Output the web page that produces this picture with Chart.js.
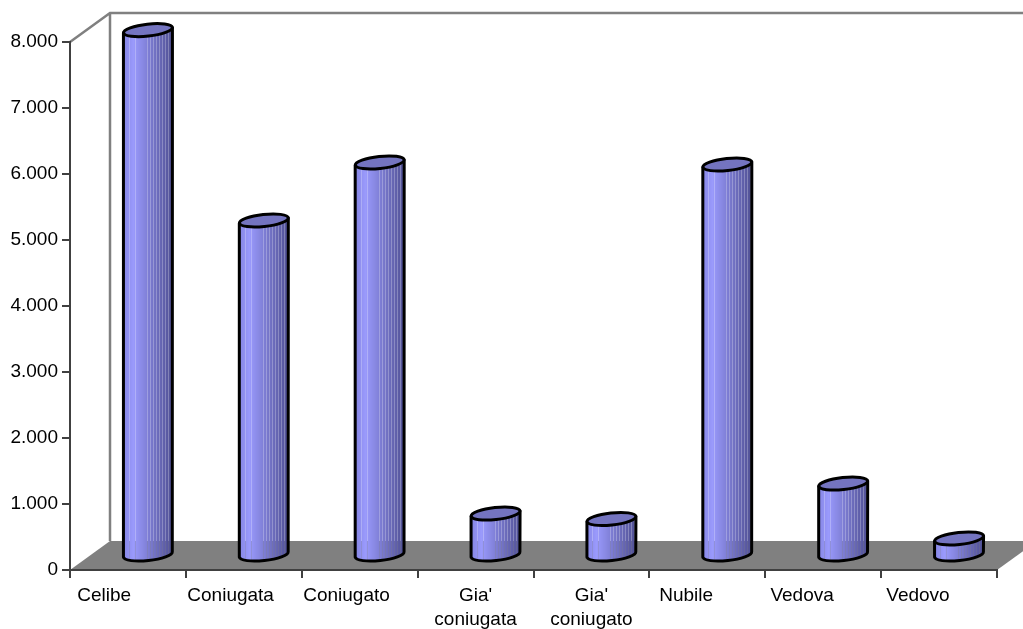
<!DOCTYPE html>
<html>
<head>
<meta charset="utf-8">
<style>
  html, body { margin: 0; padding: 0; background: #fff; overflow: hidden; }
  canvas { display: block; }
</style>
<script src="https://cdn.jsdelivr.net/npm/chart.js@4/dist/chart.umd.js"></script>
</head>
<body>
<canvas id="chart" width="1023" height="629"></canvas>
<script>
// trailing spaces push the single line labels left, as in the original sheet
const categories = [
  'Celibe         ', 'Coniugata     ', 'Coniugato     ',
  ["Gia'", 'coniugata'], ["Gia'", 'coniugato'],
  'Nubile        ', 'Vedova        ', 'Vedovo        ',
];
const counts = [7960, 5076, 5955, 636, 553, 5924, 1090, 258];
const yTicks = [0, 1000, 2000, 3000, 4000, 5000, 6000, 7000, 8000];

const depthX = 40;
const depthY = 29;
const axisColor = '#404040';
const wallColor = '#808080';

// floor and back wall of the fake 3D box
const box3d = {
  id: 'box3d',
  beforeDraw(c) {
    const { ctx } = c;
    const { left, right, top, bottom } = c.chartArea;
    ctx.save();
    ctx.fillStyle = wallColor;
    ctx.beginPath();
    ctx.moveTo(left, bottom);
    ctx.lineTo(left + depthX, bottom - depthY);
    ctx.lineTo(right + depthX, bottom - depthY);
    ctx.lineTo(right, bottom);
    ctx.closePath();
    ctx.fill();
    ctx.strokeStyle = wallColor;
    ctx.lineWidth = 2.5;
    ctx.beginPath();
    ctx.moveTo(left, top);
    ctx.lineTo(left + depthX, top - depthY);
    ctx.lineTo(right + depthX, top - depthY);
    ctx.moveTo(left + depthX, top - depthY);
    ctx.lineTo(left + depthX, bottom - depthY);
    ctx.stroke();
    ctx.restore();
  },
};

function shade(t) {
  // light band at about a fifth of the width, dark on the right edge
  let a = [134, 134, 228];
  let b = [154, 154, 252];
  let k = t / 0.2;
  if (t >= 0.2) {
    a = b;
    b = [80, 80, 148];
    k = (t - 0.2) / 0.8;
  }
  return `rgb(${a.map((v, i) => Math.round(v + (b[i] - v) * k)).join(',')})`;
}

// each bar is drawn as a cylinder from its Chart.js element
const cylinders = {
  id: 'cylinders',
  afterDatasetsDraw(c) {
    const { ctx } = c;
    const rx = 24.5;
    const ry = 6;
    const tilt = -0.11;
    const dy = rx * Math.sin(-tilt);
    c.getDatasetMeta(0).data.forEach((bar) => {
      const cx = bar.x + 20;
      const topY = bar.y - 14.5;
      const baseY = bar.base - 14.5;
      ctx.save();
      ctx.beginPath();
      ctx.moveTo(cx - rx, topY + dy);
      ctx.lineTo(cx - rx, baseY + dy);
      ctx.ellipse(cx, baseY, rx, ry, tilt, Math.PI, 0, true);
      ctx.lineTo(cx + rx, topY - dy);
      ctx.closePath();
      ctx.save();
      ctx.clip();
      // 1px columns, some see-through so the background shows as stripes
      const x0 = Math.floor(cx - rx);
      const n = Math.ceil(2 * rx) + 1;
      for (let i = 0; i < n; i += 1) {
        const t = i / (n - 1);
        const striped = (t > 0.48 && i % 3 === 0) || i === 6 || i === 12;
        ctx.globalAlpha = striped ? 0.75 : 1;
        ctx.fillStyle = shade(t);
        ctx.fillRect(x0 + i, topY - ry - dy, 1, baseY - topY + 2 * ry + 2 * dy + 2);
      }
      ctx.restore();
      ctx.strokeStyle = '#000';
      ctx.lineWidth = 3;
      ctx.lineJoin = 'round';
      ctx.stroke();
      // cap
      ctx.beginPath();
      ctx.ellipse(cx, topY, rx, ry, tilt, 0, Math.PI * 2);
      ctx.fillStyle = '#7474c0';
      ctx.fill();
      ctx.stroke();
      ctx.restore();
    });
  },
};

const chart = new Chart(document.getElementById('chart'), {
  type: 'bar',
  data: {
    labels: categories,
    datasets: [{
      data: counts,
      backgroundColor: 'rgba(0,0,0,0)',
      borderWidth: 0,
    }],
  },
  options: {
    responsive: false,
    animation: false,
    devicePixelRatio: 1,
    layout: { padding: { top: 42, right: 26, left: 0, bottom: 0 } },
    plugins: { legend: { display: false }, tooltip: { enabled: false } },
    scales: {
      x: {
        afterFit(scale) { scale.height = 59; },
        border: { color: axisColor, width: 2 },
        grid: { drawOnChartArea: false, color: axisColor, tickLength: 8, lineWidth: 2 },
        ticks: {
          autoSkip: false,
          maxRotation: 0,
          minRotation: 0,
          color: '#000',
          padding: 6,
          font: { family: '"Liberation Sans"', size: 19, lineHeight: 1.26 },
        },
      },
      y: {
        min: 0,
        max: 8000,
        afterFit(scale) { scale.width = 70; },
        afterBuildTicks(scale) { scale.ticks = yTicks.map((value) => ({ value })); },
        border: { color: axisColor, width: 2 },
        grid: { drawOnChartArea: false, color: axisColor, tickLength: 8, lineWidth: 2 },
        ticks: {
          color: '#000',
          padding: 4,
          font: { family: '"Liberation Sans"', size: 19 },
          callback: (v) => String(v).replace(/\B(?=(\d{3})+$)/g, '.'),
        },
      },
    },
  },
  plugins: [box3d, cylinders],
});
</script>
</body>
</html>
